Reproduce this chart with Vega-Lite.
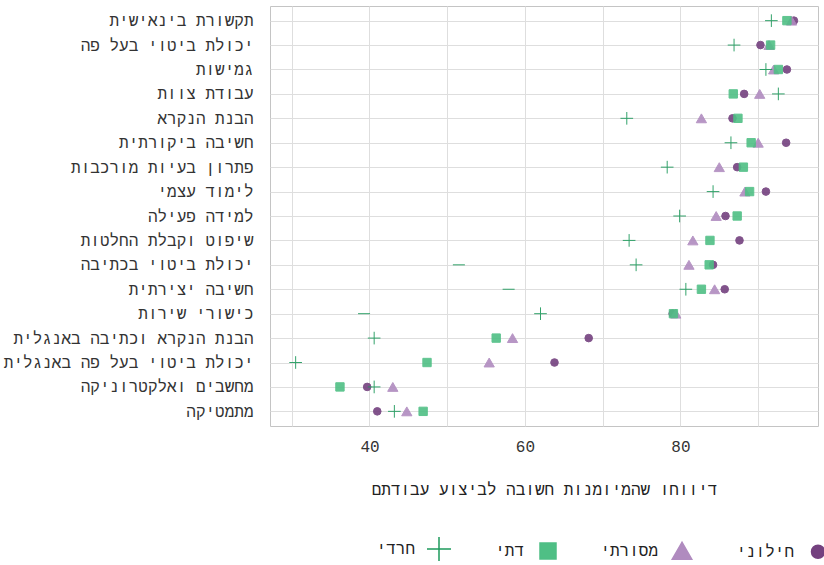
{
  "$schema": "https://vega.github.io/schema/vega-lite/v6.json",
  "autosize": {"type": "none"},
  "width": 548,
  "height": 420,
  "padding": {"left": 270, "top": 6, "right": 6, "bottom": 139},
  "background": "white",
  "config": {
    "view": {"stroke": "#c4c4c4", "strokeWidth": 1},
    "font": "Liberation Mono",
    "axis": {"gridColor": "#dedede", "gridWidth": 1, "domain": false, "ticks": false, "labelFont": "Liberation Mono", "titleFont": "Liberation Mono"},
    "legend": {"labelFont": "Liberation Mono"}
  },
  "datasets": {
    "points": [
      {"category": "תקשורת בינאישית", "group": "חרדי", "value": 91.7},
      {"category": "תקשורת בינאישית", "group": "דתי", "value": 93.7},
      {"category": "תקשורת בינאישית", "group": "מסורתי", "value": 94.3},
      {"category": "תקשורת בינאישית", "group": "חילוני", "value": 94.6},
      {"category": "יכולת ביטוי בעל פה", "group": "חרדי", "value": 86.9},
      {"category": "יכולת ביטוי בעל פה", "group": "חילוני", "value": 90.3},
      {"category": "יכולת ביטוי בעל פה", "group": "מסורתי", "value": 91.4},
      {"category": "יכולת ביטוי בעל פה", "group": "דתי", "value": 91.6},
      {"category": "גמישות", "group": "חרדי", "value": 91.0},
      {"category": "גמישות", "group": "מסורתי", "value": 92.0},
      {"category": "גמישות", "group": "דתי", "value": 92.6},
      {"category": "גמישות", "group": "חילוני", "value": 93.7},
      {"category": "עבודת צוות", "group": "דתי", "value": 86.8},
      {"category": "עבודת צוות", "group": "חילוני", "value": 88.2},
      {"category": "עבודת צוות", "group": "מסורתי", "value": 90.2},
      {"category": "עבודת צוות", "group": "חרדי", "value": 92.6},
      {"category": "הבנת הנקרא", "group": "חרדי", "value": 73.1},
      {"category": "הבנת הנקרא", "group": "מסורתי", "value": 82.7},
      {"category": "הבנת הנקרא", "group": "חילוני", "value": 86.7},
      {"category": "הבנת הנקרא", "group": "דתי", "value": 87.4},
      {"category": "חשיבה ביקורתית", "group": "חרדי", "value": 86.5},
      {"category": "חשיבה ביקורתית", "group": "דתי", "value": 89.1},
      {"category": "חשיבה ביקורתית", "group": "מסורתי", "value": 90.0},
      {"category": "חשיבה ביקורתית", "group": "חילוני", "value": 93.6},
      {"category": "פתרון בעיות מורכבות", "group": "חרדי", "value": 78.3},
      {"category": "פתרון בעיות מורכבות", "group": "מסורתי", "value": 85.0},
      {"category": "פתרון בעיות מורכבות", "group": "חילוני", "value": 87.3},
      {"category": "פתרון בעיות מורכבות", "group": "דתי", "value": 88.1},
      {"category": "לימוד עצמי", "group": "חרדי", "value": 84.2},
      {"category": "לימוד עצמי", "group": "מסורתי", "value": 88.3},
      {"category": "לימוד עצמי", "group": "דתי", "value": 88.9},
      {"category": "לימוד עצמי", "group": "חילוני", "value": 91.0},
      {"category": "למידה פעילה", "group": "חרדי", "value": 79.9},
      {"category": "למידה פעילה", "group": "מסורתי", "value": 84.6},
      {"category": "למידה פעילה", "group": "חילוני", "value": 85.8},
      {"category": "למידה פעילה", "group": "דתי", "value": 87.3},
      {"category": "שיפוט וקבלת החלטות", "group": "חרדי", "value": 73.4},
      {"category": "שיפוט וקבלת החלטות", "group": "מסורתי", "value": 81.6},
      {"category": "שיפוט וקבלת החלטות", "group": "דתי", "value": 83.8},
      {"category": "שיפוט וקבלת החלטות", "group": "חילוני", "value": 87.6},
      {"category": "יכולת ביטוי בכתיבה", "group": "חרדי", "value": 74.3},
      {"category": "יכולת ביטוי בכתיבה", "group": "מסורתי", "value": 81.1},
      {"category": "יכולת ביטוי בכתיבה", "group": "דתי", "value": 83.7},
      {"category": "יכולת ביטוי בכתיבה", "group": "חילוני", "value": 84.2},
      {"category": "חשיבה יצירתית", "group": "חרדי", "value": 80.7},
      {"category": "חשיבה יצירתית", "group": "דתי", "value": 82.7},
      {"category": "חשיבה יצירתית", "group": "מסורתי", "value": 84.4},
      {"category": "חשיבה יצירתית", "group": "חילוני", "value": 85.7},
      {"category": "כישורי שירות", "group": "חרדי", "value": 62.0},
      {"category": "כישורי שירות", "group": "חילוני", "value": 79.0},
      {"category": "כישורי שירות", "group": "מסורתי", "value": 79.4},
      {"category": "כישורי שירות", "group": "דתי", "value": 79.1},
      {"category": "הבנת הנקרא וכתיבה באנגלית", "group": "חרדי", "value": 40.6},
      {"category": "הבנת הנקרא וכתיבה באנגלית", "group": "דתי", "value": 56.3},
      {"category": "הבנת הנקרא וכתיבה באנגלית", "group": "מסורתי", "value": 58.4},
      {"category": "הבנת הנקרא וכתיבה באנגלית", "group": "חילוני", "value": 68.2},
      {"category": "יכולת ביטוי בעל פה באנגלית", "group": "חרדי", "value": 30.5},
      {"category": "יכולת ביטוי בעל פה באנגלית", "group": "דתי", "value": 47.4},
      {"category": "יכולת ביטוי בעל פה באנגלית", "group": "מסורתי", "value": 55.4},
      {"category": "יכולת ביטוי בעל פה באנגלית", "group": "חילוני", "value": 63.8},
      {"category": "מחשבים ואלקטרוניקה", "group": "דתי", "value": 36.2},
      {"category": "מחשבים ואלקטרוניקה", "group": "חילוני", "value": 39.7},
      {"category": "מחשבים ואלקטרוניקה", "group": "חרדי", "value": 40.6},
      {"category": "מחשבים ואלקטרוניקה", "group": "מסורתי", "value": 43.0},
      {"category": "מתמטיקה", "group": "חילוני", "value": 41.0},
      {"category": "מתמטיקה", "group": "חרדי", "value": 43.2},
      {"category": "מתמטיקה", "group": "מסורתי", "value": 44.8},
      {"category": "מתמטיקה", "group": "דתי", "value": 46.9}
    ],
    "dashes": [
      {"category": "יכולת ביטוי בכתיבה", "value": 51.5},
      {"category": "חשיבה יצירתית", "value": 57.9},
      {"category": "כישורי שירות", "value": 39.3}
    ]
  },
  "layer": [
    {
      "data": {"name": "dashes"},
      "mark": {"type": "point", "shape": "M-1,0H1", "filled": false, "stroke": "#1e9a5c", "strokeWidth": 1, "size": 144, "opacity": 0.9},
      "encoding": {
        "x": {"field": "value", "type": "quantitative"},
        "y": {"field": "category", "type": "nominal"}
      }
    },
    {
      "data": {"name": "points"},
      "encoding": {
        "x": {
          "field": "value", "type": "quantitative",
          "scale": {"domain": [27.2, 97.7], "nice": false, "zero": false},
          "axis": {
            "values": [30, 40, 50, 60, 70, 80, 90],
            "labelExpr": "datum.value % 20 == 0 ? datum.label : ''",
            "title": "דיווחו שהמיומנות חשובה לביצוע עבודתם",
            "labelFontSize": 16, "labelColor": "#333333", "labelPadding": 12,
            "titleFontSize": 16, "titleColor": "#222222", "titleFontWeight": "normal", "titlePadding": 27
          }
        },
        "y": {
          "field": "category", "type": "nominal",
          "scale": {
            "type": "point", "padding": 0.6,
            "domain": ["תקשורת בינאישית", "יכולת ביטוי בעל פה", "גמישות", "עבודת צוות", "הבנת הנקרא", "חשיבה ביקורתית", "פתרון בעיות מורכבות", "לימוד עצמי", "למידה פעילה", "שיפוט וקבלת החלטות", "יכולת ביטוי בכתיבה", "חשיבה יצירתית", "כישורי שירות", "הבנת הנקרא וכתיבה באנגלית", "יכולת ביטוי בעל פה באנגלית", "מחשבים ואלקטרוניקה", "מתמטיקה"]
          },
          "axis": {"title": null, "grid": true, "labelFontSize": 16, "labelColor": "#333333", "labelPadding": 17, "labelLimit": 300}
        },
        "color": {
          "field": "group", "type": "nominal",
          "scale": {"domain": ["חרדי", "דתי", "מסורתי", "חילוני"], "range": ["#1e9a5c", "#4fbf85", "#b08bbf", "#74417f"]},
          "legend": {
            "title": null, "orient": "none", "direction": "horizontal",
            "legendX": 161, "legendY": 535,
            "labelFontSize": 16, "labelColor": "#222222",
            "labelAlign": "right", "labelOffset": -32,
            "symbolSize": 400, "symbolOpacity": 1, "symbolStrokeWidth": 1.5,
            "columnPadding": 41,
            "encode": {
              "symbols": {
                "update": {
                  "size": {"signal": "datum.value === 'חרדי' ? 576 : datum.value === 'דתי' ? 256 : datum.value === 'מסורתי' ? 380 : 169"}
                }
              }
            }
          }
        },
        "stroke": {
          "field": "group", "type": "nominal",
          "scale": {"domain": ["חרדי", "דתי", "מסורתי", "חילוני"], "range": ["#1e9a5c", "#4fbf85", "#b08bbf", "#74417f"]}
        },
        "shape": {
          "field": "group", "type": "nominal",
          "scale": {"domain": ["חרדי", "דתי", "מסורתי", "חילוני"], "range": ["M-1,0H1M0,-1V1", "square", "triangle-up", "circle"]}
        }
      },
      "layer": [
        {"transform": [{"filter": "datum.group === 'חילוני'"}], "mark": {"type": "point", "filled": true, "strokeWidth": 1, "opacity": 0.9, "size": 58}},
        {"transform": [{"filter": "datum.group === 'מסורתי'"}], "mark": {"type": "point", "filled": true, "strokeWidth": 1, "opacity": 0.9, "size": 105}},
        {"transform": [{"filter": "datum.group === 'דתי'"}], "mark": {"type": "point", "filled": true, "strokeWidth": 1, "opacity": 0.9, "size": 70}},
        {"transform": [{"filter": "datum.group === 'חרדי'"}], "mark": {"type": "point", "filled": true, "strokeWidth": 1, "opacity": 0.9, "size": 160}}
      ]
    }
  ]
}
